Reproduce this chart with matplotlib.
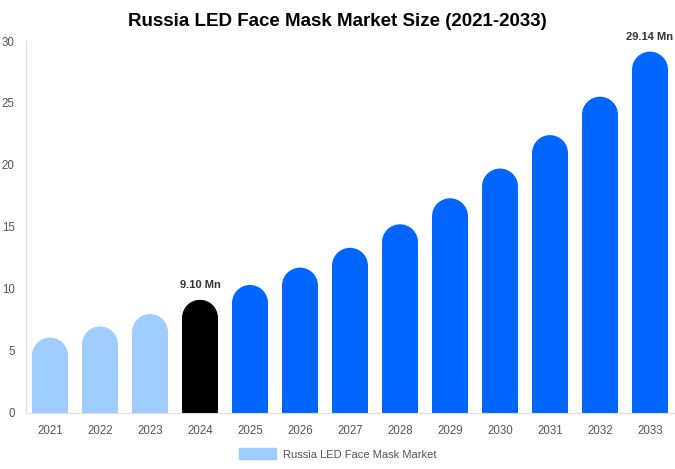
import matplotlib.pyplot as plt
from matplotlib.patches import Ellipse, Patch

plt.rcParams['font.family'] = ['Liberation Sans', 'DejaVu Sans']

years = ['2021', '2022', '2023', '2024', '2025', '2026', '2027',
         '2028', '2029', '2030', '2031', '2032', '2033']
values = [6.05, 6.95, 7.95, 9.10, 10.3, 11.7, 13.3,
          15.2, 17.3, 19.7, 22.4, 25.5, 29.14]
colors = ['#9fcdff'] * 3 + ['#000000'] + ['#0066ff'] * 9
labels = {3: '9.10 Mn', 12: '29.14 Mn'}

fig = plt.figure(figsize=(6.75, 4.69), dpi=100)
ax = fig.add_axes([25.7 / 675, 1 - 412.5 / 469, 1 - 25.7 / 675, 371.5 / 469])

bar_w = 0.72
ax.set_xlim(-0.486, 12.5)
ax.set_ylim(0, 30)

# cap radius in data units so it looks round in pixels
px_per_x = ax.get_position().width * 675 / (12.5 + 0.486)
px_per_y = ax.get_position().height * 469 / 30
r_y = (bar_w / 2) * px_per_x / px_per_y

x = range(len(years))
ax.bar(x, [v - r_y for v in values], width=bar_w, color=colors, zorder=2)
for i, v in enumerate(values):
    ax.add_patch(Ellipse((i, v - r_y), bar_w, 2 * r_y, color=colors[i], zorder=2, lw=0))
    if i in labels:
        ax.text(i, v + 0.8, labels[i], ha='center', va='bottom',
                fontsize=8, fontweight='bold', color='#333333')

ax.set_xticks(list(x))
ax.set_xticklabels(years)
ax.set_yticks([0, 5, 10, 15, 20, 25, 30])
ax.tick_params(axis='both', length=0, labelsize=8.3, colors='#555555')
ax.tick_params(axis='x', pad=9)
ax.tick_params(axis='y', pad=8)

for s in ['top', 'right']:
    ax.spines[s].set_visible(False)
ax.spines['left'].set_color('#dddddd')
ax.spines['bottom'].set_color('#dddddd')

fig.suptitle('Russia LED Face Mask Market Size (2021-2033)', x=0.5, y=0.972,
             fontsize=13.5, fontweight='bold')

fig.legend(handles=[Patch(color='#9fcdff', label='Russia LED Face Mask Market')],
           loc='center', bbox_to_anchor=(0.5, 1 - 454 / 469), frameon=False,
           fontsize=8, labelcolor='#555555', handlelength=3.4, handleheight=1.1,
           handletextpad=0.6)

fig.savefig('out.png', dpi=100)
